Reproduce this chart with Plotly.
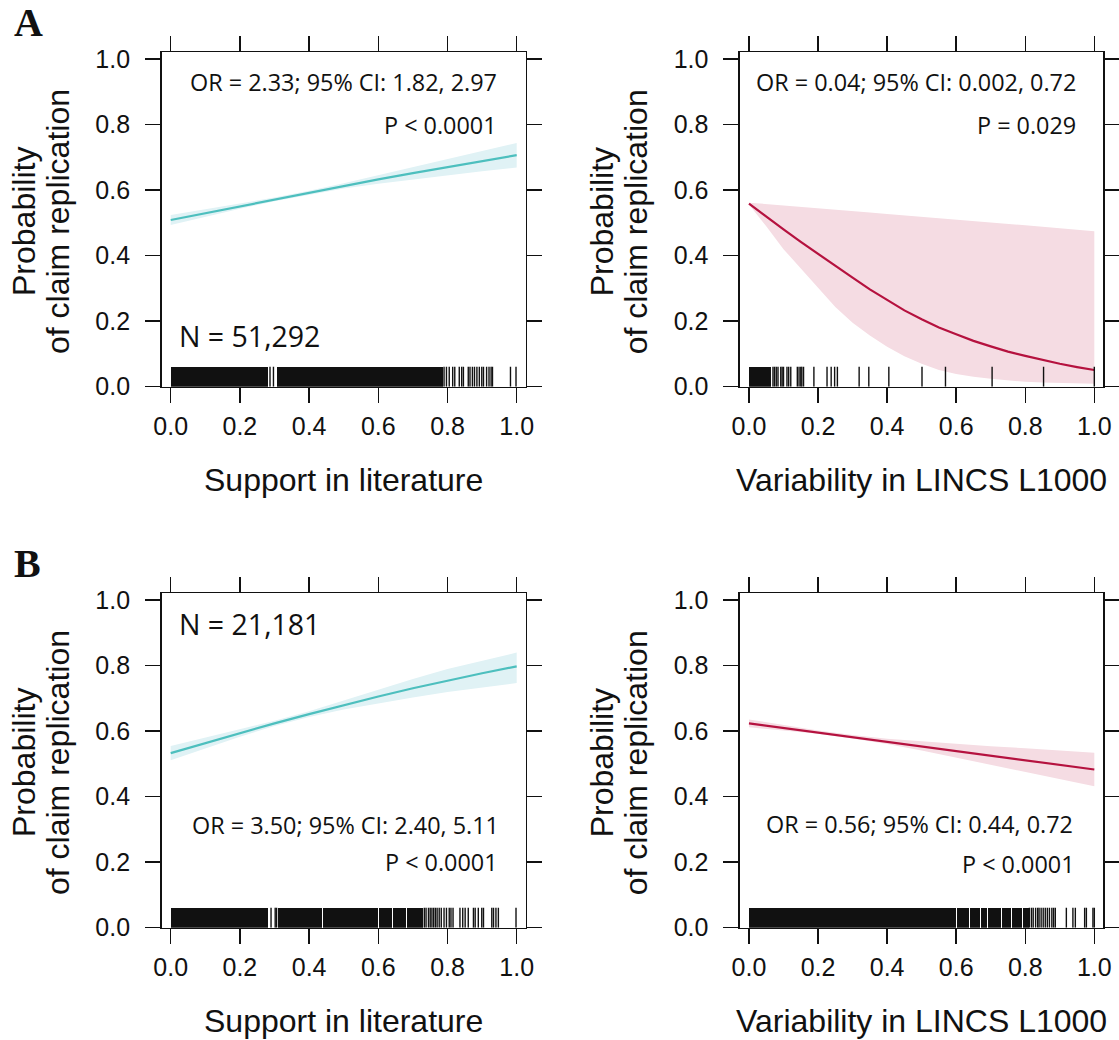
import plotly.graph_objects as go

# ---------------- data ----------------
x_grid = [0.0, 0.1, 0.2, 0.3, 0.4, 0.5, 0.6, 0.7, 0.8, 0.9, 1.0]
x_grid_fine = [0.0, 0.05, 0.1, 0.15, 0.2, 0.25, 0.3, 0.35, 0.4, 0.45, 0.5,
               0.55, 0.6, 0.65, 0.7, 0.75, 0.8, 0.85, 0.9, 0.95, 1.0]

# Panel A, literature support
a_lit_fit = [0.509, 0.530, 0.551, 0.572, 0.592, 0.613, 0.633, 0.652, 0.671, 0.689, 0.707]
a_lit_lo = [0.494, 0.519, 0.543, 0.566, 0.586, 0.605, 0.620, 0.633, 0.646, 0.658, 0.669]
a_lit_hi = [0.524, 0.541, 0.559, 0.578, 0.598, 0.621, 0.646, 0.671, 0.696, 0.720, 0.744]

# Panel A, LINCS variability
a_var_fit = [0.559, 0.519, 0.480, 0.442, 0.405, 0.368, 0.333, 0.297, 0.264, 0.233, 0.206,
             0.181, 0.160, 0.140, 0.123, 0.107, 0.094, 0.081, 0.070, 0.060, 0.051]
a_var_lo = [0.556, 0.490, 0.420, 0.360, 0.300, 0.243, 0.195, 0.156, 0.122, 0.093, 0.070,
            0.051, 0.039, 0.030, 0.024, 0.019, 0.015, 0.013, 0.011, 0.010, 0.009]
a_var_hi = [0.562, 0.558, 0.553, 0.549, 0.545, 0.540, 0.536, 0.532, 0.527, 0.523, 0.519,
            0.514, 0.510, 0.506, 0.501, 0.497, 0.493, 0.488, 0.484, 0.480, 0.475]

# Panel B, literature support
b_lit_fit = [0.533, 0.564, 0.594, 0.624, 0.652, 0.680, 0.706, 0.731, 0.755, 0.777, 0.798]
b_lit_lo = [0.511, 0.548, 0.583, 0.616, 0.643, 0.666, 0.685, 0.703, 0.720, 0.733, 0.747]
b_lit_hi = [0.555, 0.580, 0.605, 0.632, 0.661, 0.694, 0.727, 0.759, 0.790, 0.814, 0.840]

# Panel B, LINCS variability
b_var_fit = [0.624, 0.610, 0.597, 0.583, 0.569, 0.555, 0.540, 0.526, 0.512, 0.497, 0.483]
b_var_lo = [0.612, 0.602, 0.592, 0.578, 0.561, 0.541, 0.519, 0.498, 0.476, 0.454, 0.432]
b_var_hi = [0.636, 0.618, 0.602, 0.588, 0.577, 0.569, 0.561, 0.554, 0.548, 0.540, 0.534]

# Rug: dense runs of observations [start, end] and isolated observations
a_lit_rug_runs = [[0.0, 0.280], [0.308, 0.787]]
a_lit_rug_ticks = [0.287, 0.297, 0.790, 0.797, 0.805, 0.815, 0.821, 0.834, 0.841, 0.846,
                   0.860, 0.865, 0.872, 0.878, 0.885, 0.892, 0.899, 0.904, 0.913, 0.920,
                   0.926, 0.930, 0.982, 0.998]

a_var_rug_runs = [[0.0, 0.064]]
a_var_rug_ticks = [0.0695, 0.074, 0.079, 0.084, 0.092, 0.096, 0.100, 0.110, 0.115, 0.121,
                   0.140, 0.145, 0.150, 0.153, 0.158, 0.188, 0.226, 0.238, 0.248, 0.256,
                   0.319, 0.347, 0.405, 0.501, 0.569, 0.704, 0.853, 1.0]

b_lit_rug_runs = [[0.0, 0.282], [0.311, 0.436], [0.439, 0.600], [0.601, 0.640],
                  [0.642, 0.680], [0.682, 0.705], [0.707, 0.730]]
b_lit_rug_ticks = [0.290, 0.302, 0.306, 0.733, 0.738, 0.745, 0.750, 0.755, 0.760, 0.765,
                   0.770, 0.776, 0.782, 0.790, 0.797, 0.805, 0.810, 0.816, 0.836, 0.844,
                   0.851, 0.860, 0.875, 0.880, 0.889, 0.899, 0.904, 0.928, 0.933, 0.940,
                   0.947, 0.998]

b_var_rug_runs = [[0.0, 0.567], [0.569, 0.600], [0.603, 0.638], [0.641, 0.670],
                  [0.673, 0.690], [0.693, 0.730], [0.733, 0.760], [0.763, 0.790],
                  [0.793, 0.810]]
b_var_rug_ticks = [0.812, 0.818, 0.823, 0.830, 0.836, 0.840, 0.846, 0.852, 0.858, 0.864,
                   0.870, 0.877, 0.882, 0.887, 0.919, 0.938, 0.945, 0.972, 0.977, 0.996, 1.0]

tick_vals = [0.0, 0.2, 0.4, 0.6, 0.8, 1.0]
tick_text = ["0.0", "0.2", "0.4", "0.6", "0.8", "1.0"]

x_titles = ["Support in literature", "Variability in LINCS L1000"]
y_title_lines = ["Probability", "of claim replication"]
panel_letters = ["A", "B"]

stats_text = {
    "a_lit": ["OR = 2.33; 95% CI: 1.82, 2.97", "P < 0.0001"],
    "a_var": ["OR = 0.04; 95% CI: 0.002, 0.72", "P = 0.029"],
    "b_lit": ["OR = 3.50; 95% CI: 2.40, 5.11", "P < 0.0001"],
    "b_var": ["OR = 0.56; 95% CI: 0.44, 0.72", "P < 0.0001"],
}
n_text = {"a_lit": "N = 51,292", "b_lit": "N = 21,181"}

# ---------------- styling ----------------
W, H = 1119, 1040
OFF = 0  # page margin is removed below, so figure pixels == screen pixels
TEAL = "#4DBFBE"
TEAL_BAND = "#E0F2F5"
RED = "#B5123F"
RED_BAND = "#F5DCE3"
INK = "#111111"
SANS = "Liberation Sans, Arial, sans-serif"
MYR = "Open Sans, sans-serif"
RUG_H = 0.061


def px(v):
    """horizontal screen pixel -> paper fraction"""
    return (v - OFF) / W


def py(v):
    """vertical screen pixel -> paper fraction"""
    return 1 - (v - OFF) / H


# screen geometry of the four frames (left, right, top, bottom)
frames = {
    "a_lit": (161.7, 525.7, 52.3, 386.7),
    "a_var": (740.0, 1103.3, 52.3, 386.7),
    "b_lit": (161.7, 525.7, 593.3, 927.7),
    "b_var": (740.0, 1103.3, 593.3, 927.7),
}
axis_ids = {"a_lit": ("x", "y"), "a_var": ("x2", "y2"), "b_lit": ("x3", "y3"), "b_var": ("x4", "y4")}

fig = go.Figure()


def add_panel(key, xs, fit, lo, hi, runs, ticks, line_col, band_col):
    xa, ya = axis_ids[key]
    fig.add_trace(go.Scatter(x=xs, y=lo, mode="lines", line=dict(width=0, color=band_col),
                             xaxis=xa, yaxis=ya, showlegend=False, hoverinfo="skip"))
    fig.add_trace(go.Scatter(x=xs, y=hi, mode="lines", line=dict(width=0, color=band_col),
                             fill="tonexty", fillcolor=band_col,
                             xaxis=xa, yaxis=ya, showlegend=False, hoverinfo="skip"))
    fig.add_trace(go.Scatter(x=xs, y=fit, mode="lines", line=dict(width=2.2, color=line_col),
                             xaxis=xa, yaxis=ya, showlegend=False))
    # dense rug runs
    fig.add_trace(go.Bar(x=[(a + b) / 2 for a, b in runs], y=[RUG_H] * len(runs),
                         width=[b - a for a, b in runs], base=0,
                         marker=dict(color=INK, line=dict(width=0)),
                         xaxis=xa, yaxis=ya, showlegend=False))
    # isolated rug ticks
    rx, ry = [], []
    for v in ticks:
        rx += [v, v, None]
        ry += [0, RUG_H, None]
    fig.add_trace(go.Scatter(x=rx, y=ry, mode="lines", line=dict(width=1.4, color=INK),
                             xaxis=xa, yaxis=ya, showlegend=False))


add_panel("a_lit", x_grid, a_lit_fit, a_lit_lo, a_lit_hi, a_lit_rug_runs, a_lit_rug_ticks, TEAL, TEAL_BAND)
add_panel("a_var", x_grid_fine, a_var_fit, a_var_lo, a_var_hi, a_var_rug_runs, a_var_rug_ticks, RED, RED_BAND)
add_panel("b_lit", x_grid, b_lit_fit, b_lit_lo, b_lit_hi, b_lit_rug_runs, b_lit_rug_ticks, TEAL, TEAL_BAND)
add_panel("b_var", x_grid, b_var_fit, b_var_lo, b_var_hi, b_var_rug_runs, b_var_rug_ticks, RED, RED_BAND)

layout = dict(
    width=W, height=H, autosize=False,
    margin=dict(l=0, r=0, t=0, b=0, pad=0, autoexpand=False),
    paper_bgcolor="white", plot_bgcolor="white", bargap=0,
    font=dict(family=SANS, color=INK),
    hovermode=False,
)

axis_common = dict(
    showgrid=False, zeroline=False, showline=True, linecolor=INK, linewidth=1.6,
    mirror="allticks", ticks="outside", ticklen=15, tickwidth=1.5, tickcolor=INK,
    tickvals=tick_vals, ticktext=tick_text, tickfont=dict(family=SANS, size=25, color=INK),
    fixedrange=True, automargin=False,
)

annotations = []
for i, key in enumerate(["a_lit", "a_var", "b_lit", "b_var"]):
    l, r, t, b = frames[key]
    xa, ya = axis_ids[key]
    xname = "xaxis" if xa == "x" else "xaxis" + xa[1:]
    yname = "yaxis" if ya == "y" else "yaxis" + ya[1:]
    layout[xname] = dict(axis_common, domain=[px(l), px(r)], range=[-0.026, 1.026],
                         anchor=ya, ticklabelstandoff=2)
    layout[yname] = dict(axis_common, domain=[py(b), py(t)], range=[0, 1.021],
                         anchor=xa, ticklabelstandoff=10)
    # x-axis title
    annotations.append(dict(text=x_titles[i % 2], xref="paper", yref="paper",
                            x=px((l + r) / 2), y=py(b + 93), xanchor="center", yanchor="middle",
                            showarrow=False, font=dict(family=SANS, size=32, color=INK)))
    # y-axis title (two lines)
    for j, off in enumerate([138.2, 104.2]):
        annotations.append(dict(text=y_title_lines[j], xref="paper", yref="paper",
                                x=px(l - off), y=py((t + b) / 2 + 2),
                                xanchor="center", yanchor="middle", textangle=-90,
                                showarrow=False, font=dict(family=SANS, size=32, color=INK)))

# statistics text (data coordinates)
stat_pos = {
    "a_lit": [(0.950, 0.931), (0.950, 0.800)],
    "a_var": [(0.954, 0.931), (0.954, 0.800)],
    "b_lit": [(0.954, 0.314), (0.952, 0.201)],
    "b_var": [(0.944, 0.318), (0.950, 0.195)],
}
n_pos = {"a_lit": (0.019, 0.155), "b_lit": (0.019, 0.926)}
for key, lines in stats_text.items():
    xa, ya = axis_ids[key]
    for txt, (sx, sy) in zip(lines, stat_pos[key]):
        annotations.append(dict(text=txt, xref=xa, yref=ya, x=sx, y=sy,
                                xanchor="right", yanchor="middle", showarrow=False,
                                font=dict(family=MYR, size=23.4, color=INK)))
for key, txt in n_text.items():
    xa, ya = axis_ids[key]
    sx, sy = n_pos[key]
    annotations.append(dict(text=txt, xref=xa, yref=ya, x=sx, y=sy,
                            xanchor="left", yanchor="middle", showarrow=False,
                            font=dict(family=MYR, size=28.5, color=INK)))

# panel letters
for letter, yc in zip(panel_letters, [22, 563]):
    annotations.append(dict(text="<b>%s</b>" % letter, xref="paper", yref="paper",
                            x=px(12), y=py(yc), xanchor="left", yanchor="middle",
                            showarrow=False,
                            font=dict(family="Liberation Serif, Times New Roman, serif", size=40, color=INK)))

layout["annotations"] = annotations
fig.update_layout(**layout)
fig.write_html(
    "out.html",
    config={"displayModeBar": False, "staticPlot": True},
    post_script="document.body.style.margin='0';document.body.style.overflow='hidden';",
)
